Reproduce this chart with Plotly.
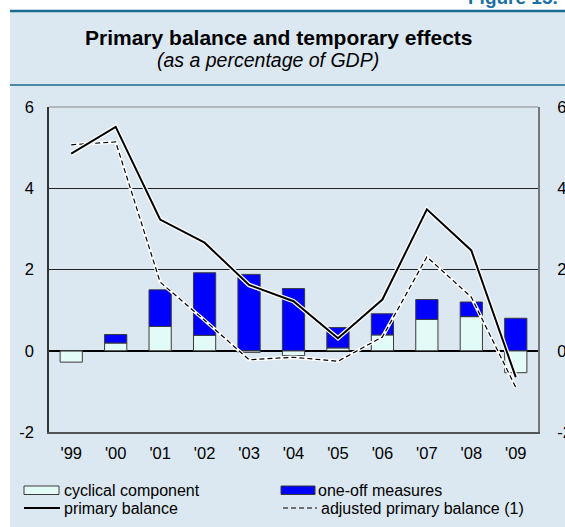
import plotly.graph_objects as go

years = ["'99", "'00", "'01", "'02", "'03", "'04", "'05", "'06", "'07", "'08", "'09"]
cyclical = [-0.28, 0.19, 0.60, 0.38, -0.04, -0.12, 0.07, 0.39, 0.77, 0.84, -0.54]
one_off = [0.00, 0.21, 0.90, 1.54, 1.88, 1.53, 0.50, 0.52, 0.49, 0.36, 0.80]
primary = [4.85, 5.51, 3.23, 2.66, 1.62, 1.22, 0.31, 1.26, 3.48, 2.47, -0.65]
adjusted = [5.07, 5.14, 1.69, 0.75, -0.22, -0.16, -0.26, 0.34, 2.31, 1.32, -0.90]
y_ticks = [-2, 0, 2, 4, 6]

W, H = 565, 527
L, R, T, B = 49, 538, 107, 432  # plot area in pixels


def px(x):
    return (x - L) / (R - L)


def py(y):
    return (B - y) / (B - T)


xs = list(range(len(years)))
BG = "#DCE8F1"
TEAL = "#1C6A8E"
FONT = "Liberation Sans, Arial, sans-serif"

fig = go.Figure()
fig.add_trace(go.Bar(x=xs, y=cyclical, name="cyclical component", width=0.5,
                     marker=dict(color="#E2FBF6", line=dict(color="#3a3a3a", width=1))))
fig.add_trace(go.Bar(x=xs, y=one_off, name="one-off measures", width=0.5,
                     marker=dict(color="#0000FF", line=dict(color="#3a3a3a", width=1))))
# white halos under the lines
fig.add_trace(go.Scatter(x=xs, y=adjusted, mode="lines", showlegend=False, hoverinfo="skip",
                         line=dict(color="white", width=3.5)))
fig.add_trace(go.Scatter(x=xs, y=adjusted, mode="lines", name="adjusted primary balance (1)",
                         line=dict(color="black", width=1.2, dash="5px,3px")))
fig.add_trace(go.Scatter(x=xs, y=primary, mode="lines", showlegend=False, hoverinfo="skip",
                         line=dict(color="white", width=4.5)))
fig.add_trace(go.Scatter(x=xs, y=primary, mode="lines", name="primary balance",
                         line=dict(color="black", width=2)))
# invisible trace so the mirrored right-hand value axis is drawn
fig.add_trace(go.Scatter(x=xs, y=primary, mode="lines", yaxis="y2", showlegend=False,
                         hoverinfo="skip", line=dict(color="rgba(0,0,0,0)", width=0)))

fig.update_layout(
    width=W, height=H,
    margin=dict(l=L, r=W - R, t=T, b=H - B, pad=0, autoexpand=False),
    paper_bgcolor="white", plot_bgcolor="white",
    barmode="relative", bargap=0.5,
    showlegend=False,
    font=dict(family=FONT, size=16, color="black"),
    xaxis=dict(range=[-0.5, len(years) - 0.5], tickmode="array", tickvals=xs, ticktext=years,
               showgrid=False, zeroline=False, showline=True, linecolor="#555555", linewidth=2,
               mirror=False, ticks="", ticklabelstandoff=5, tickfont=dict(size=16.5), automargin=False),
    xaxis2=dict(range=[-0.5, len(years) - 0.5], overlaying="x", anchor="free", position=0.25,
                tickmode="array", tickvals=[i + 0.5 for i in range(len(years) - 1)],
                ticks="inside", ticklen=5, tickwidth=1.5, tickcolor="black",
                showticklabels=False, showgrid=False, zeroline=False, showline=False, automargin=False),
    yaxis=dict(range=[-2, 6], tickmode="array", tickvals=y_ticks, ticktext=[str(v) for v in y_ticks],
               showgrid=True, gridcolor="#222222", gridwidth=1,
               zeroline=True, zerolinecolor="black", zerolinewidth=1.5,
               showline=True, linecolor="#333333", linewidth=1.5, ticks="", ticklabelstandoff=10,
               tickfont=dict(size=16.5), automargin=False),
    yaxis2=dict(range=[-2, 6], overlaying="y", side="right", anchor="x", tickmode="array", tickvals=y_ticks,
                ticktext=[str(v) for v in y_ticks], showgrid=False, zeroline=False,
                showline=True, linecolor="#777777", linewidth=2, ticks="", ticklabelstandoff=14,
                tickfont=dict(size=16.5), automargin=False),
)

shapes = [
    dict(type="rect", xref="paper", yref="paper", x0=px(10), x1=px(W + 30), y0=py(12), y1=py(H + 10),
         fillcolor=BG, line=dict(width=0), layer="below"),
    dict(type="line", xref="paper", yref="paper", x0=px(10), x1=px(W + 30), y0=py(11), y1=py(11),
         line=dict(color=TEAL, width=2.5)),
    dict(type="line", xref="paper", yref="paper", x0=px(10), x1=px(W + 30), y0=py(85), y1=py(85),
         line=dict(color=TEAL, width=1.5)),
    dict(type="line", xref="paper", yref="paper", x0=0, x1=1, y0=1, y1=1,
         line=dict(color="#888888", width=1)),
    # legend swatches
    dict(type="rect", xref="paper", yref="paper", x0=px(24), x1=px(59), y0=py(486), y1=py(494.5),
         fillcolor="#E2FBF6", line=dict(color="#3a3a3a", width=1)),
    dict(type="rect", xref="paper", yref="paper", x0=px(281), x1=px(315), y0=py(486), y1=py(494.5),
         fillcolor="#0000FF", line=dict(color="#3a3a3a", width=1)),
    dict(type="line", xref="paper", yref="paper", x0=px(24), x1=px(60), y0=py(508), y1=py(508),
         line=dict(color="black", width=2)),
    dict(type="line", xref="paper", yref="paper", x0=px(283), x1=px(317), y0=py(508), y1=py(508),
         line=dict(color="black", width=1.2, dash="5px,3px")),
]

annotations = [
    dict(text="<b>Primary balance and temporary effects</b>", x=px(279), y=py(37), xref="paper", yref="paper",
         xanchor="center", yanchor="middle", showarrow=False, font=dict(size=21, family=FONT)),
    dict(text="<i>(as a percentage of GDP)</i>", x=px(268), y=py(60), xref="paper", yref="paper",
         xanchor="center", yanchor="middle", showarrow=False, font=dict(size=19.5, family=FONT)),
    dict(text="<b>Figure 15.</b>", x=px(466), y=py(-3), xref="paper", yref="paper",
         xanchor="left", yanchor="middle", showarrow=False, font=dict(size=19, family=FONT, color="#1A6FA5")),
    dict(text="cyclical component", x=px(62), y=py(490), xref="paper", yref="paper",
         xanchor="left", yanchor="middle", showarrow=False, font=dict(size=16, family=FONT)),
    dict(text="primary balance", x=px(62), y=py(508), xref="paper", yref="paper",
         xanchor="left", yanchor="middle", showarrow=False, font=dict(size=16, family=FONT)),
    dict(text="one-off measures", x=px(316), y=py(490), xref="paper", yref="paper",
         xanchor="left", yanchor="middle", showarrow=False, font=dict(size=16, family=FONT)),
    dict(text="adjusted primary balance (1)", x=px(319), y=py(508), xref="paper", yref="paper",
         xanchor="left", yanchor="middle", showarrow=False, font=dict(size=16, family=FONT)),
]
fig.update_layout(shapes=shapes, annotations=annotations)

fig.write_html("out.html", config={"displayModeBar": False},
               post_script="document.body.style.margin='0';document.body.style.overflow='hidden';")
